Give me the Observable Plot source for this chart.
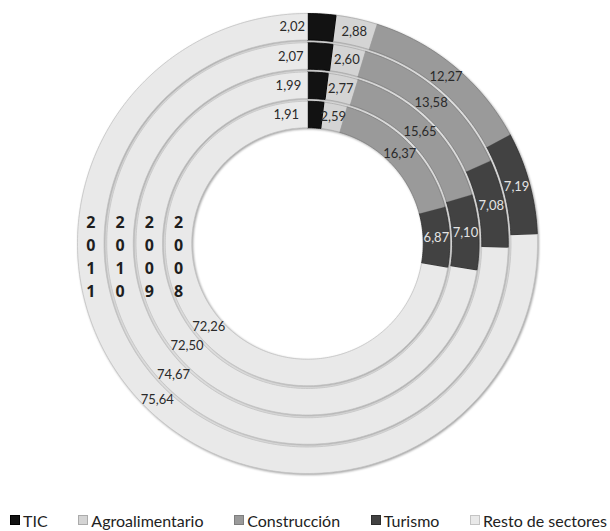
<!DOCTYPE html>
<html>
<head>
<meta charset="utf-8">
<script src="https://cdn.jsdelivr.net/npm/d3@7"></script>
<script src="https://cdn.jsdelivr.net/npm/@observablehq/plot@0.6"></script>
<style>
  html, body { margin: 0; padding: 0; background: #fff; }
  #wrap { width: 610px; height: 531px; position: relative; overflow: hidden; }
  #legend { position: absolute; left: 0; top: 509px; width: 610px; height: 22px;
    display: flex; justify-content: space-between; align-items: center;
    box-sizing: border-box; padding: 0 3px 0 10px;
    font-family: Lato, "Open Sans", sans-serif; font-size: 16px; color: #222; }
  .item { display: flex; align-items: center; white-space: nowrap; }
  .sw { width: 10px; height: 10px; margin-right: 3px; box-sizing: border-box; border: 1px solid #888; }
</style>
</head>
<body>
<div id="wrap"><div id="chart"></div><div id="legend"></div></div>
<script>
// ---- data ----
const years = ["2011", "2010", "2009", "2008"];           // outer ring -> inner ring
const sectors = ["TIC", "Agroalimentario", "Construcción", "Turismo", "Resto de sectores"];
const tic = [2.02, 2.07, 1.99, 1.91];
const agro = [2.88, 2.60, 2.77, 2.59];
const construccion = [12.27, 13.58, 15.65, 16.37];
const turismo = [7.19, 7.08, 7.10, 6.87];
const resto = [75.64, 74.67, 72.50, 72.26];
const colors = ["#121212", "#d4d4d4", "#9a9a9a", "#424242", "#e9e9e9"];
const edgeColors = ["#000000", "#ababab", "#7e7e7e", "#2e2e2e", "#c4c4c4"];
const labelColors = ["#2a2a2a", "#2a2a2a", "#2a2a2a", "#e4e4e4", "#2a2a2a"];

// ---- geometry (units: outer radius = 1) ----
const R = 230;
const pitch = 29.25 / R, thick = 26.5 / R;
const outerR = i => 1 - i * pitch;
const innerR = i => outerR(i) - thick;
const midR = i => outerR(i) - thick / 2;

const series = [tic, agro, construccion, turismo, resto];
const polys = [];
const labels = [];
years.forEach((yr, i) => {
  let cum = 0;
  series.forEach((s, j) => {
    const v = s[i];
    const a0 = cum / 100 * 2 * Math.PI, a1 = (cum + v) / 100 * 2 * Math.PI;
    cum += v;
    const n = Math.max(3, Math.ceil((a1 - a0) / (Math.PI / 180)));
    const id = yr + "-" + j;
    const ro = outerR(i), ri = innerR(i);
    for (let k = 0; k <= n; k++) {
      const a = a0 + (a1 - a0) * k / n;
      polys.push({id, sector: sectors[j], x: ro * Math.sin(a), y: ro * Math.cos(a)});
    }
    for (let k = n; k >= 0; k--) {
      const a = a0 + (a1 - a0) * k / n;
      polys.push({id, sector: sectors[j], x: ri * Math.sin(a), y: ri * Math.cos(a)});
    }
    const am = (a0 + a1) / 2, rm = midR(i);
    labels.push({x: rm * Math.sin(am), y: rm * Math.cos(am), sector: sectors[j],
      text: v.toFixed(2).replace(".", ","), j});
  });
});

const W = 610, H = 490, cx = 307, cy = 243;
const chart = Plot.plot({
  width: W, height: H,
  margin: 0,
  x: {domain: [-cx / R, (W - cx) / R], axis: null},
  y: {domain: [-(H - cy) / R, cy / R], axis: null},
  color: {domain: sectors, range: colors},
  marks: [
    Plot.line(polys, {x: "x", y: "y", z: "id", fill: "sector",
      stroke: d => edgeColors[sectors.indexOf(d.sector)], strokeWidth: 0.8}),
    Plot.text(labels.filter(d => d.j !== 0), {x: "x", y: "y", text: "text",
      fill: d => labelColors[d.j], fontSize: 13, fontFamily: "Lato, 'Open Sans', sans-serif"}),
    Plot.text(labels.filter(d => d.j === 0), {x: "x", y: "y", text: "text", dx: -29,
      fill: labelColors[0], fontSize: 13, fontFamily: "Lato, 'Open Sans', sans-serif"}),
    Plot.text(years, {x: (d, i) => -midR(i), y: -0.05, text: d => d.split("").join("\n"),
      lineHeight: 1.44, fontSize: 16, fontWeight: "bold", fill: "#1e1e1e",
      fontFamily: "'Open Sans', sans-serif"})
  ]
});
const ringGroup = chart.querySelector('g[aria-label="line"]');
if (ringGroup) ringGroup.style.filter = "drop-shadow(1px 1.5px 1.2px rgba(0,0,0,0.38))";
document.getElementById("chart").appendChild(chart);

const legend = document.getElementById("legend");
sectors.forEach((s, j) => {
  const it = document.createElement("div");
  it.className = "item";
  it.innerHTML = `<span class="sw" style="background:${colors[j]};border-color:${edgeColors[j]}"></span><span>${s}</span>`;
  legend.appendChild(it);
});
</script>
</body>
</html>
